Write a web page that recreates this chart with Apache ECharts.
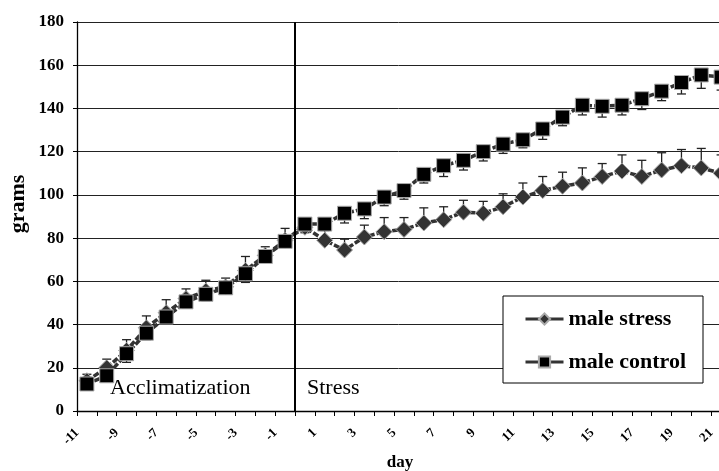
<!DOCTYPE html>
<html>
<head>
<meta charset="utf-8">
<script src="https://cdn.jsdelivr.net/npm/echarts@6/dist/echarts.min.js"></script>
<style>
  html, body { margin: 0; padding: 0; background: #fff; }
  #chart { width: 719px; height: 471px; }
</style>
</head>
<body>
<div id="chart"></div>
<script>
// Body weight (grams) by day; negative days = acclimatization, day 0 onward = stress
const days = [-11, -10, -9, -8, -7, -6, -5, -4, -3, -2, -1, 0, 1, 2, 3, 4, 5, 6, 7, 8, 9, 10,
              11, 12, 13, 14, 15, 16, 17, 18, 19, 20, 21];

const stressMean = [14, 20, 28, 38.5, 45.5, 52, 55.5, 57.5, 65, 72, 79, 85, 79, 74.5, 80.5, 83, 84,
                    87, 88.5, 92, 91.5, 94.5, 99, 102, 104, 105.5, 108.5, 111, 108.5, 111.5, 113.5, 112.5, 110];
const stressSE = [3, 4, 5, 5.5, 6, 4.5, 5, 4, 6.5, 4, 5.5, 3, 5, 5, 5.5, 6.5, 5.5,
                  7, 6, 5.5, 5.5, 6, 6.5, 6.5, 6.5, 7, 6, 7.5, 7.5, 8, 7.5, 9, 8.5];

const controlMean = [12.5, 16.3, 26.5, 36, 43.5, 50.5, 54, 57, 63.5, 71.5, 78.5, 86.5, 86.5, 91.5, 93.5, 99, 102,
                     109.5, 113.5, 116, 120, 123.5, 125.5, 130.5, 136, 141.5, 141, 141.5, 144.5, 148, 152, 155.5, 154.5];
const controlSE = [2, 2.5, 4, 3, 3, 3, 3, 2, 4, 2, 2, 4, 3, 4.5, 4.5, 4, 4,
                   4, 5, 4.5, 4.3, 4.3, 3.7, 4.8, 4, 4.5, 5, 4.5, 5, 4.4, 5.3, 6.2, 6];

const seriesNames = ['male stress', 'male control'];
const phaseLabels = ['Acclimatization', 'Stress'];
const yTitle = 'grams';
const xTitle = 'day';

const serif = '"Liberation Serif", "Times New Roman", serif';

// One-sided error bars: dir = +1 draws upward, -1 downward
function errorBars(name, means, errs, dir) {
  return {
    type: 'custom',
    name: name + ' SE',
    z: 1,
    silent: true,
    data: means.map((m, i) => [i, m, m + dir * errs[i]]),
    encode: { x: 0, y: [1, 2] },
    renderItem(params, api) {
      const i = api.value(0);
      const p0 = api.coord([i, api.value(1)]);
      const p1 = api.coord([i, api.value(2)]);
      const half = 4.5;
      const st = { stroke: '#222', lineWidth: 1.3 };
      return {
        type: 'group',
        children: [
          { type: 'line', shape: { x1: p0[0], y1: p0[1], x2: p1[0], y2: p1[1] }, style: st },
          { type: 'line', shape: { x1: p1[0] - half, y1: p1[1], x2: p1[0] + half, y2: p1[1] }, style: st }
        ]
      };
    }
  };
}

const chart = echarts.init(document.getElementById('chart'), null, { renderer: 'canvas' });

chart.setOption({
  animation: false,
  backgroundColor: '#fff',
  grid: { left: 77, right: -12, top: 22, bottom: 60, containLabel: false, outerBoundsMode: 'none' },
  xAxis: [
    {
      type: 'category',
      data: days,
      boundaryGap: true,
      name: xTitle,
      nameLocation: 'middle',
      nameGap: 41,
      nameTextStyle: { fontFamily: serif, fontWeight: 'bold', fontSize: 17, color: '#000', padding: [0, 8, 0, 0] },
      axisLine: { lineStyle: { color: '#000', width: 1.3 } },
      axisTick: { show: true, interval: 0, length: 5, lineStyle: { color: '#000' } },
      axisLabel: {
        interval: 1,
        rotate: 45,
        margin: 10,
        padding: [0, 14, 0, 0],
        fontFamily: serif,
        fontWeight: 'bold',
        fontSize: 13,
        color: '#000'
      },
      splitLine: { show: false }
    },
    {
      // helper scale counting category slots, used for the phase divider
      type: 'value',
      min: 0,
      max: days.length,
      show: false
    }
  ],
  yAxis: {
    type: 'value',
    min: 0,
    max: 180,
    interval: 20,
    axisLine: { show: true, lineStyle: { color: '#000', width: 1.3 } },
    axisTick: { show: true, length: 4, lineStyle: { color: '#000' } },
    axisLabel: { margin: 13, fontFamily: serif, fontWeight: 'bold', fontSize: 17, color: '#000' },
    splitLine: { show: true, lineStyle: { color: '#222', width: 1 } }
  },
  legend: {
    data: seriesNames,
    orient: 'vertical',
    left: 503,
    top: 296,
    itemWidth: 38,
    itemHeight: 14,
    itemGap: 21,
    padding: [12, 17, 10, 21],
    backgroundColor: '#fff',
    borderColor: '#000',
    borderWidth: 1,
    borderRadius: 0,
    lineStyle: { type: 'solid', width: 3 },
    textStyle: { fontFamily: serif, fontWeight: 'bold', fontSize: 22, lineHeight: 22, color: '#000' }
  },
  graphic: [
    {
      type: 'text',
      x: 18,
      y: 204,
      rotation: Math.PI / 2,
      style: {
        text: yTitle,
        font: 'bold 22px ' + serif,
        fill: '#000',
        align: 'center',
        verticalAlign: 'middle'
      }
    },
    {
      type: 'text',
      left: 110,
      top: 377,
      style: { text: phaseLabels[0], font: '22px ' + serif, fill: '#000' }
    },
    {
      type: 'text',
      left: 307,
      top: 377,
      style: { text: phaseLabels[1], font: '22px ' + serif, fill: '#000' }
    }
  ],
  series: [
    errorBars(seriesNames[0], stressMean, stressSE, 1),
    errorBars(seriesNames[1], controlMean, controlSE, -1),
    {
      type: 'line',
      name: seriesNames[0],
      data: stressMean,
      z: 3,
      symbol: 'diamond',
      symbolSize: 16,
      showAllSymbol: true,
      itemStyle: { color: '#333', borderColor: '#aaa', borderWidth: 1 },
      lineStyle: { color: '#333', width: 3.5, type: [6, 2] }
    },
    {
      type: 'line',
      name: seriesNames[1],
      data: controlMean,
      z: 4,
      symbol: 'rect',
      symbolSize: 14,
      showAllSymbol: true,
      itemStyle: { color: '#000', borderColor: '#aaa', borderWidth: 1 },
      lineStyle: { color: '#333', width: 3.5, type: [6, 2] }
    },
    {
      // divider between the acclimatization and stress phases
      type: 'line',
      name: 'phase divider',
      xAxisIndex: 1,
      data: [],
      silent: true,
      markLine: {
        silent: true,
        symbol: 'none',
        label: { show: false },
        lineStyle: { color: '#000', width: 2, type: 'solid' },
        data: [{ xAxis: days.indexOf(0) }]
      }
    }
  ]
});
</script>
</body>
</html>
